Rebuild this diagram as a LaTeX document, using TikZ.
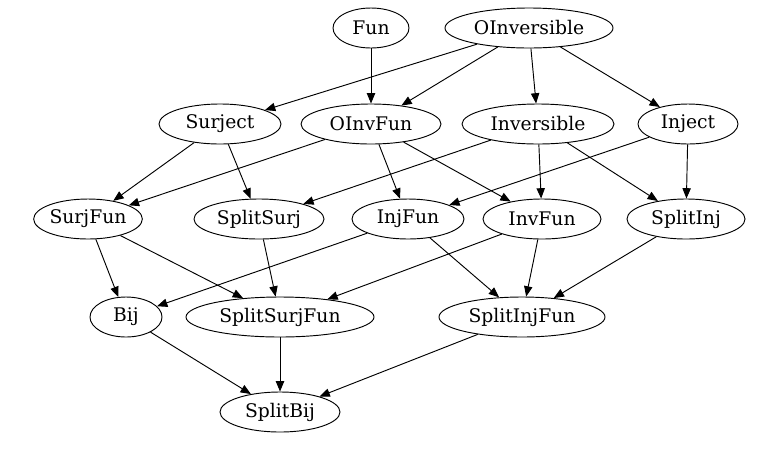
\documentclass[tikz,border=0pt]{standalone}
\usepackage{fontspec}
\setmainfont{DejaVu Serif}
\usetikzlibrary{shapes.geometric}
\usetikzlibrary{arrows.meta}
\newcommand{\clsheight}{1.2cm}
\newcommand{\clsfont}{\fontsize{16}{19}\selectfont}
\tikzset{
  cls/.style={ellipse,draw,line width=0.8pt,inner sep=0pt,
    minimum height=\clsheight,font=\clsfont},
  dep/.style={line width=0.8pt,-{Triangle[length=0.31cm,width=0.25cm]}}
}

\begin{document}
\begin{tikzpicture}[x=0.03cm,y=-0.03cm]
    \useasboundingbox (0,0) rectangle (762,462);

    % top row
    \node (fun) at (371,28) [cls,minimum width=2.28cm] {Fun};
    \node (oinversible) at (529,28) [cls,minimum width=5.04cm] {OInversible};

    % second row
    \node (surject) at (220,124) [cls,minimum width=3.66cm] {Surject};
    \node (oinvfun) at (371,124) [cls,minimum width=4.2cm] {OInvFun};
    \node (inversible) at (538,124) [cls,minimum width=4.56cm] {Inversible};
    \node (inject) at (688,124) [cls,minimum width=3.0cm] {Inject};

    % third row
    \node (surjfun) at (88,219) [cls,minimum width=3.06cm] {SurjFun};
    \node (splitsurj) at (259,219) [cls,minimum width=3.9cm] {SplitSurj};
    \node (injfun) at (408,219) [cls,minimum width=3.36cm] {InjFun};
    \node (invfun) at (542,219) [cls,minimum width=3.54cm] {InvFun};
    \node (splitinj) at (686,219) [cls,minimum width=3.54cm] {SplitInj};

    % fourth row
    \node (bij) at (126,317) [cls,minimum width=2.16cm] {Bij};
    \node (splitsurjfun) at (280,317) [cls,minimum width=5.64cm] {SplitSurjFun};
    \node (splitinjfun) at (522,317) [cls,minimum width=4.98cm] {SplitInjFun};

    % bottom
    \node (splitbij) at (280,412) [cls,minimum width=3.6cm] {SplitBij};

    % edges
    \draw[dep] (fun) -- (oinvfun);
    \draw[dep] (oinversible) -- (surject);
    \draw[dep] (oinversible) -- (oinvfun);
    \draw[dep] (oinversible) -- (inversible);
    \draw[dep] (oinversible) -- (inject);
    \draw[dep] (surject) -- (surjfun);
    \draw[dep] (surject) -- (splitsurj);
    \draw[dep] (oinvfun) -- (surjfun);
    \draw[dep] (oinvfun) -- (injfun);
    \draw[dep] (oinvfun) -- (invfun);
    \draw[dep] (inversible) -- (splitsurj);
    \draw[dep] (inversible) -- (invfun);
    \draw[dep] (inversible) -- (splitinj);
    \draw[dep] (inject) -- (injfun);
    \draw[dep] (inject) -- (splitinj);
    \draw[dep] (surjfun) -- (bij);
    \draw[dep] (surjfun) -- (splitsurjfun);
    \draw[dep] (splitsurj) -- (splitsurjfun);
    \draw[dep] (injfun) -- (bij);
    \draw[dep] (injfun) -- (splitinjfun);
    \draw[dep] (invfun) -- (splitsurjfun);
    \draw[dep] (invfun) -- (splitinjfun);
    \draw[dep] (splitinj) -- (splitinjfun);
    \draw[dep] (bij) -- (splitbij);
    \draw[dep] (splitsurjfun) -- (splitbij);
    \draw[dep] (splitinjfun) -- (splitbij);
\end{tikzpicture}
\end{document}
